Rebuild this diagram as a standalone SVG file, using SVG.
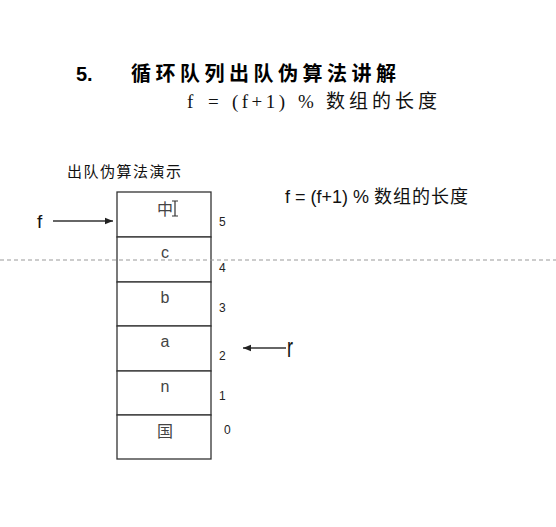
<svg xmlns="http://www.w3.org/2000/svg" width="556" height="527" viewBox="0 0 556 527">
  <style>
    .title { font-family: "Liberation Sans", "Noto Sans CJK SC", sans-serif; font-weight: bold; font-size: 20px; fill: #000; }
    .formula { font-family: "Liberation Serif", "Noto Sans CJK SC", serif; font-size: 19px; fill: #111; }
    .cjk { font-family: "Noto Sans CJK SC", sans-serif; }
    .label { font-family: "Liberation Sans", "Noto Sans CJK SC", sans-serif; fill: #111; }
    .cell rect { fill: #fff; stroke: #333; stroke-width: 1.3; }
    .cell text { font-family: "Liberation Sans", "Noto Sans CJK SC", sans-serif; font-size: 16px; fill: #444; text-anchor: middle; }
    .idx { font-family: "Liberation Sans", sans-serif; font-size: 12px; fill: #222; }
    .arrow { stroke: #333; stroke-width: 1.4; fill: none; marker-end: url(#head); }
  </style>
  <defs>
    <marker id="head" viewBox="0 0 10 10" refX="10" refY="5" markerWidth="8" markerHeight="8" markerUnits="userSpaceOnUse" orient="auto">
      <path d="M0,1 L10,5 L0,9 Z" fill="#222"/>
    </marker>
  </defs>
  <rect width="556" height="527" fill="#fff"/>

  <!-- heading -->
  <g id="heading">
    <text class="title" x="76" y="81">5.</text>
    <text class="title" x="131" y="81" letter-spacing="4.5">循环队列出队伪算法讲解</text>
    <text class="formula" y="108"><tspan x="187">f</tspan><tspan x="208">=</tspan><tspan x="232" textLength="53" lengthAdjust="spacing">(f+1)</tspan><tspan x="298">%</tspan></text>
    <text class="formula cjk" x="326" y="108" font-size="19" letter-spacing="4">数组的长度</text>
  </g>

  <!-- demo caption and formula -->
  <text class="label" x="67" y="177" font-size="15" letter-spacing="1.5">出队伪算法演示</text>
  <text class="label" x="285" y="203" font-size="18">f = (f+1) % <tspan letter-spacing="1">数组的长度</tspan></text>

  <!-- queue array cells, index 5 at top down to 0 -->
  <g id="cell5" class="cell"><rect x="117" y="192" width="94" height="45"/><text x="165" y="215">中</text></g>
  <g id="cell4" class="cell"><rect x="117" y="237" width="94" height="45"/><text x="165" y="258">c</text></g>
  <g id="cell3" class="cell"><rect x="117" y="282" width="94" height="44"/><text x="165" y="303">b</text></g>
  <g id="cell2" class="cell"><rect x="117" y="326" width="94" height="45"/><text x="165" y="347">a</text></g>
  <g id="cell1" class="cell"><rect x="117" y="371" width="94" height="44"/><text x="165" y="392">n</text></g>
  <g id="cell0" class="cell"><rect x="117" y="415" width="94" height="44"/><text x="165" y="437">国</text></g>

  <!-- text cursor beside the top cell -->
  <path d="M175,201 V216 M172,201 H178 M172,216 H178" stroke="#333" stroke-width="1.2" fill="none"/>

  <!-- indices -->
  <g id="indices">
    <text class="idx" x="219" y="226">5</text>
    <text class="idx" x="219" y="272">4</text>
    <text class="idx" x="219" y="312">3</text>
    <text class="idx" x="219" y="360">2</text>
    <text class="idx" x="219" y="400">1</text>
    <text class="idx" x="224" y="434">0</text>
  </g>

  <!-- pointers -->
  <g id="pointer-f">
    <text class="label" x="37" y="228" font-size="19">f</text>
  </g>
  <g id="pointer-r">
    <text class="label" font-size="18" transform="translate(287 357) scale(1 1.5)">r</text>
  </g>
  <g id="connectors">
    <line class="arrow" x1="53" y1="221" x2="113" y2="221"/>
    <line class="arrow" x1="286" y1="348" x2="243" y2="348"/>
  </g>

  <!-- dashed guide line -->
  <line x1="0" y1="260" x2="556" y2="260" stroke="#999" stroke-width="1" stroke-dasharray="4,3"/>
</svg>
